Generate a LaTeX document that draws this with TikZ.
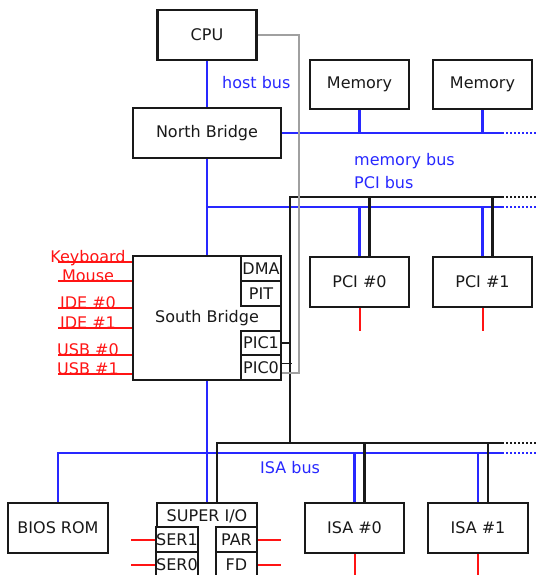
\documentclass[tikz,border=0pt]{standalone}
\usepackage{fontspec}
\setmainfont{DejaVu Sans}
\usepackage{tikz}
\usetikzlibrary{calc}
\definecolor{busblue}{RGB}{40,40,255}
\definecolor{portred}{RGB}{255,20,20}
\definecolor{irqgray}{RGB}{160,160,160}
\definecolor{edge}{RGB}{25,25,25}
\newcommand{\chip}[6]{\node[chipbox,minimum width=#4pt,minimum height=#5pt] (#1) at (#2,#3) {#6};}
\newcommand{\drawbus}{\draw[line width=2.2pt,busblue]}
\newcommand{\drawctl}{\draw[line width=2.2pt,edge]}
\newcommand{\drawport}{\draw[line width=2pt,portred]}
\tikzset{
  chipfont/.style={font=\fontsize{16}{19}\selectfont},
  chipbox/.style={chipfont,draw=edge,text=edge,line width=2.4pt,fill=white,inner sep=0pt},
  buslabel/.style={chipfont,text=busblue,inner sep=0pt,anchor=base west},
  portlabel/.style={chipfont,text=portred,inner sep=0pt,anchor=base},
  dots/.style={line width=2.2pt,dash pattern=on 2pt off 2pt}
}

\begin{document}
\begin{tikzpicture}[x=1pt,y=-1pt]
\useasboundingbox (0,0) rectangle (537,575);
\coordinate (membus) at (502,133);
\coordinate (pcibus) at (502,207);
\coordinate (pcictl) at (502,197);
\coordinate (isabus) at (502,453);
\coordinate (isactl) at (502,443);
\coordinate (pcitap) at (290,197);
\coordinate (isatap) at (290,443);
\coordinate (irqbend) at (299,373);
\chip{cpu}{207}{35}{99}{50}{CPU}
\chip{nb}{207}{133}{148}{50}{North Bridge}
\chip{mem0}{359.5}{84.5}{99}{49}{Memory}
\chip{mem1}{482.5}{84.5}{99}{49}{Memory}
\chip{sb}{207}{318}{148}{124}{South Bridge}
\chip{dma}{261}{268.5}{40}{25}{DMA}
\chip{pit}{261}{293.5}{40}{25}{PIT}
\chip{pic1}{261}{343}{40}{24}{PIC1}
\chip{pic0}{261}{367.5}{40}{25}{PIC0}
\chip{pci0}{359.5}{282}{99}{50}{PCI \#0}
\chip{pci1}{482.5}{282}{99}{50}{PCI \#1}
\chip{bios}{58}{528}{100}{50}{BIOS ROM}
\chip{sio}{207}{553}{100}{100}{}
\node[chipfont,text=edge] (siolabel) at (207,516) {SUPER I/O};
\chip{ser1}{177}{539.5}{40}{25}{SER1}
\chip{ser0}{177}{564.5}{40}{25}{SER0}
\chip{par}{236.5}{539.5}{41}{25}{PAR}
\chip{fd}{236.5}{564.5}{41}{25}{FD}
\chip{isa0}{354.5}{528}{99}{50}{ISA \#0}
\chip{isa1}{478}{528}{100}{50}{ISA \#1}
\node[buslabel] (hostbus) at (222,89) {host bus};
\node[buslabel] (membuslabel) at (354,165) {memory bus};
\node[buslabel] (pcibuslabel) at (354,188) {PCI bus};
\node[buslabel] (isabuslabel) at (260,473) {ISA bus};
\drawbus (cpu.south) -- (nb.north);
\drawbus (nb.east) -- (membus);
\drawbus (mem0.south) -- (mem0.south |- membus);
\drawbus (mem1.south) -- (mem1.south |- membus);
\drawbus (nb.south) -- (sb.north);
\drawbus (nb.south |- pcibus) -- (pcibus);
\drawbus (sb.south) -- (sio.north);
\drawbus (bios.north) |- (isabus);
\drawctl (pcictl) -- (pcitap) -- (isatap);
\drawctl ($(sio.north)+(10,0)$) |- (isactl);
\draw[line width=1.8pt,edge] (pic1.east) -- (pic1.east -| pcitap);
\draw[line width=1.8pt,edge] ($(pic0.east)+(0,-4)$) -- ++(10,0);
\draw[irqgray,line width=1.8pt] (cpu.east) -| (irqbend) -- (irqbend -| pic0.east);
\foreach \c in {pci0,pci1}{
  \drawbus (\c.north) -- (\c.north |- pcibus);
  \drawctl ($(\c.north)+(10,0)$) -- ($(\c.north |- pcictl)+(10,0)$);
  \drawport (\c.south) -- ++(0,23);
}
\foreach \c in {isa0,isa1}{
  \drawbus (\c.north) -- (\c.north |- isabus);
  \drawctl ($(\c.north)+(10,0)$) -- ($(\c.north |- isactl)+(10,0)$);
  \drawport (\c.south) -- ++(0,25);
}
\foreach \p in {membus,pcibus,isabus} \draw[dots,busblue] (\p) -- ++(35,0);
\foreach \p in {pcictl,isactl} \draw[dots,edge] (\p) -- ++(35,0);
\foreach \n/\y/\t in {kbd/262/Keyboard,mouse/281/Mouse,ide0/308/IDE \#0,ide1/328/IDE \#1,usb0/355/USB \#0,usb1/374/USB \#1}{
  \node[portlabel] (\n) at (88,\y) {\t};
  \drawport (\n.base) ++(-30,0) -- (\n.base -| sb.west);
}
\drawport (ser1.west) -- ++(-24,0);
\drawport (ser0.west) -- ++(-24,0);
\drawport (par.east) -- ++(23,0);
\drawport (fd.east) -- ++(23,0);
\end{tikzpicture}
\end{document}
